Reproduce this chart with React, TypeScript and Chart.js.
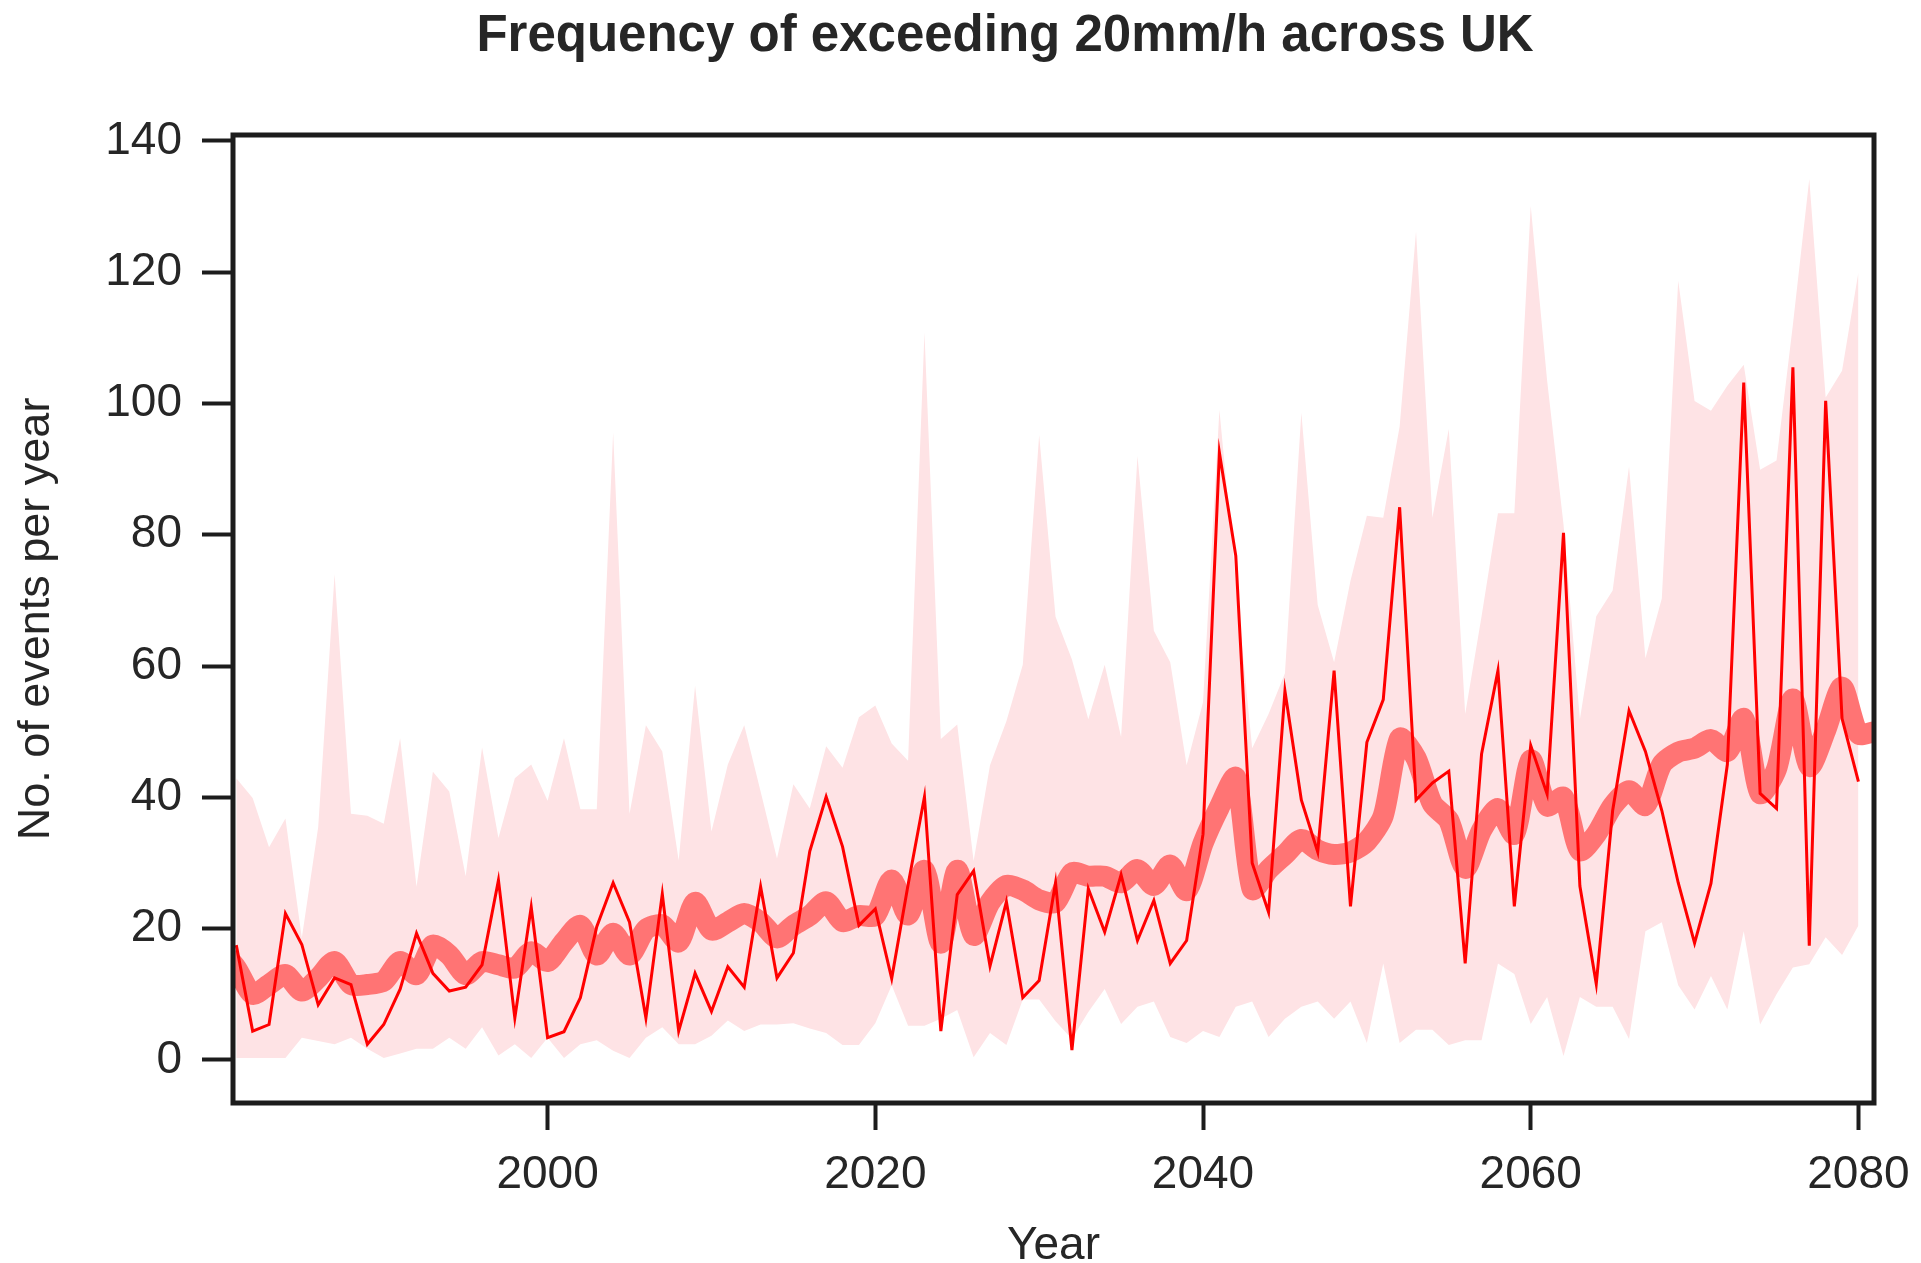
import React, { useEffect, useRef } from "react";
import { Chart, registerables } from "chart.js";

Chart.register(...registerables);

const TITLE = "Frequency of exceeding 20mm/h across UK";
const X_TITLE = "Year";
const Y_TITLE = "No. of events per year";

// yearly categories 1981..2080
const years: number[] = Array.from({ length: 100 }, (_, i) => 1981 + i);
// smoothed series spans slightly beyond the data range (clipped by the axes)
const smoothYears: number[] = Array.from({ length: 102 }, (_, i) => 1980 + i);

const xTicks = [2000, 2020, 2040, 2060, 2080];
const yTicks = [0, 20, 40, 60, 80, 100, 120, 140];

// annual number of events (thin red line)
const annualEvents = [
  17.5, 4.4, 5.4, 22.3, 17.6, 8.4, 12.5, 11.5, 2.4, 5.4,
  10.8, 19.3, 13.2, 10.5, 11.1, 14.5, 27.4, 6.4, 23.3, 3.4,
  4.3, 9.5, 20.3, 27, 21, 6.4, 25.3, 4.4, 13.2, 7.4,
  14.2, 11.1, 26.4, 12.5, 16.3, 31.8, 40.1, 32.5, 20.5, 23,
  12.4, 26.7, 40.1, 4.4, 25.2, 28.8, 14.3, 24.1, 9.5, 12.1,
  27, 1.5, 26.1, 19.5, 28.2, 18.2, 24.3, 14.7, 18.2, 34.4,
  92.5, 76.8, 30, 22.5, 56.2, 39.6, 31.7, 59.3, 23.4, 48.4,
  54.9, 84.2, 39.6, 42.2, 44, 14.7, 46.6, 59.3, 23.4, 47.9,
  40.5, 80.3, 26.5, 11.6, 38, 53.2, 47, 38, 27, 17.8,
  26.9, 45, 103.2, 40.6, 38.3, 105.5, 17.4, 100.4, 52, 42.4,
];

// ensemble mean (thick light-red line), 1980..2081
const ensembleMean = [
  17, 14, 10, 11.5, 13, 10.5, 12.5, 15, 11.5, 11.5,
  12, 15, 13, 17.5, 16, 13, 15, 14.5, 14, 16.5,
  15, 18, 20.5, 16, 19.3, 16, 19.9, 20.6, 18, 24,
  19.8, 21, 22.3, 21, 18.6, 20.5, 22, 24.1, 21.1, 22,
  22, 27.4, 22.1, 28.9, 17.8, 28.9, 19, 24, 26.6, 25.9,
  24.4, 24, 28.5, 28, 28, 27, 29, 26.6, 29.7, 25.8,
  33, 38.5, 43, 26, 29, 31.3, 33.6, 32, 31.3, 31.7,
  33.3, 37.2, 49, 46, 39, 36.5, 29.2, 35, 38.3, 34.4,
  45.7, 38.7, 40, 31.9, 34.4, 38.7, 41, 38.8, 45, 46.9,
  47.5, 48.8, 47, 52, 40.6, 44.3, 55, 44.7, 50.2, 56.8,
  49.7, 50,
];

// ensemble range, upper bound
const rangeUpper = [
  42.9, 39.9, 32.4, 36.8, 18.6, 35.5, 74, 37.5, 37.2, 36,
  49, 26.4, 43.9, 40.9, 28, 47.6, 33.8, 42.9, 45, 39.5,
  49, 38.2, 38.2, 95.6, 37.5, 51, 47, 30.4, 57, 34.8,
  45, 51, 40.9, 30.7, 42, 38.3, 47.8, 44.5, 52.2, 54,
  48.2, 45.6, 110.8, 48.9, 51.1, 30.3, 44.9, 51.6, 60.2, 95.2,
  67.5, 61, 51.9, 60.2, 49.2, 92, 65.4, 60.6, 44.9, 54.5,
  99, 72.8, 47.5, 52.7, 58.9, 98.6, 69.3, 60.6, 73, 82.9,
  82.6, 96.5, 126.2, 82.6, 96.1, 52.7, 67.6, 83.3, 83.3, 130.1,
  103.5, 81.6, 51.9, 67.6, 71.5, 90.4, 61.2, 70.3, 118.7, 100.4,
  98.9, 102.7, 105.9, 89.9, 91.3, 112, 134.2, 100.9, 105, 120,
];

// ensemble range, lower bound
const rangeLower = [
  0.3, 0.3, 0.3, 0.3, 3.4, 2.9, 2.4, 3.4, 1.7, 0.3,
  1, 1.7, 1.7, 3.4, 1.7, 5, 0.7, 2.4, 0.3, 3.4,
  0.3, 2.4, 3, 1.4, 0.3, 3.4, 5, 2.4, 2.4, 3.7,
  6, 4.4, 5.4, 5.4, 5.6, 4.8, 4.1, 2.3, 2.3, 5.6,
  11.4, 5.2, 5.2, 6.3, 7.6, 0.4, 4.1, 2.3, 9.2, 9.2,
  5.9, 3.2, 7.3, 10.8, 5.5, 8.1, 8.9, 3.5, 2.6, 4.4,
  3.5, 8.1, 8.9, 3.5, 6.3, 8.1, 8.9, 6.3, 8.9, 2.6,
  14.7, 2.6, 4.6, 4.6, 2.3, 3, 3, 14.7, 13.1, 5.5,
  9.6, 0.6, 9.6, 8.1, 8.1, 3.2, 19.6, 21, 11.4, 7.7,
  12.8, 7.7, 19.6, 5.4, 10, 14.1, 14.6, 18.7, 16, 20.5,
];

const FONT = '"Liberation Sans", Arial, Helvetica, sans-serif';
const TEXT = "#262626";

const framePlugin = {
  id: "frameAndTitle",
  afterDraw(chart: any) {
    const { ctx, chartArea: a } = chart;
    ctx.save();
    ctx.strokeStyle = "#1c1c1c";
    ctx.lineWidth = 5;
    ctx.strokeRect(a.left, a.top, a.right - a.left, a.bottom - a.top);
    ctx.fillStyle = TEXT;
    ctx.font = `bold 51px ${FONT}`;
    ctx.textAlign = "center";
    ctx.textBaseline = "alphabetic";
    ctx.fillText(TITLE, 997, 43);
    ctx.restore();
  },
};

export default function App() {
  const ref = useRef<HTMLCanvasElement | null>(null);

  useEffect(() => {
    document.documentElement.style.overflow = "hidden";
    document.body.style.overflow = "hidden";
    const canvas = ref.current;
    if (!canvas) return;
    const toXY = (xs: number[], ys: number[]) => xs.map((x, i) => ({ x, y: ys[i] }));

    const chart = new Chart(canvas, {
      type: "line",
      data: {
        datasets: [
          {
            label: "annual",
            data: toXY(years, annualEvents),
            borderColor: "#ff0000",
            borderWidth: 3,
            pointRadius: 0,
            tension: 0,
            fill: false,
            clip: 2,
          },
          {
            label: "mean",
            data: toXY(smoothYears, ensembleMean),
            borderColor: "rgb(255,116,116)",
            borderWidth: 21,
            borderCapStyle: "round",
            borderJoinStyle: "round",
            pointRadius: 0,
            tension: 0.25,
            fill: false,
            clip: 0,
          },
          {
            label: "upper",
            data: toXY(years, rangeUpper),
            borderWidth: 0,
            borderColor: "rgba(0,0,0,0)",
            backgroundColor: "rgb(254,227,229)",
            pointRadius: 0,
            tension: 0,
            fill: "+1",
          },
          {
            label: "lower",
            data: toXY(years, rangeLower),
            borderWidth: 0,
            borderColor: "rgba(0,0,0,0)",
            pointRadius: 0,
            tension: 0,
            fill: false,
          },
        ],
      } as any,
      options: {
        responsive: false,
        animation: false,
        layout: { padding: { top: 127, right: 0, left: 0, bottom: 0 } },
        plugins: {
          legend: { display: false },
          title: { display: false },
          tooltip: { enabled: false },
        },
        scales: {
          x: {
            type: "linear",
            min: 1980.8,
            max: 2080.95,
            afterBuildTicks: (s: any) => {
              s.ticks = xTicks.map((v) => ({ value: v }));
            },
            afterFit: (s: any) => {
              s.height = 195;
              s.paddingRight = 39;
              s.paddingLeft = 0;
            },
            border: { display: false },
            grid: {
              display: true,
              drawOnChartArea: false,
              drawTicks: true,
              tickLength: 27,
              tickWidth: 4,
              tickColor: "#1c1c1c",
            },
            ticks: {
              autoSkip: false,
              maxRotation: 0,
              padding: 18,
              color: TEXT,
              font: { family: FONT, size: 46 },
              callback: (v: any) => String(v),
            },
            title: {
              display: true,
              text: X_TITLE,
              color: TEXT,
              font: { family: FONT, size: 46 },
              padding: { top: 0, bottom: 24 },
            },
          },
          y: {
            type: "linear",
            min: -6.55,
            max: 140.9,
            afterBuildTicks: (s: any) => {
              s.ticks = yTicks.map((v) => ({ value: v }));
            },
            afterFit: (s: any) => {
              s.width = 225;
            },
            border: { display: false },
            grid: {
              display: true,
              drawOnChartArea: false,
              drawTicks: true,
              tickLength: 31,
              tickWidth: 4,
              tickColor: "#1c1c1c",
            },
            ticks: {
              padding: 20,
              color: TEXT,
              font: { family: FONT, size: 46 },
              callback: (v: any) => String(v),
            },
            title: {
              display: true,
              text: Y_TITLE,
              color: TEXT,
              font: { family: FONT, size: 45 },
              padding: { top: 2, bottom: 0 },
            },
          },
        },
      } as any,
      plugins: [framePlugin],
    });
    return () => chart.destroy();
  }, []);

  return (
    <div style={{ width: 1905, height: 1290 }}>
      <canvas ref={ref} width={1905} height={1290} />
    </div>
  );
}
